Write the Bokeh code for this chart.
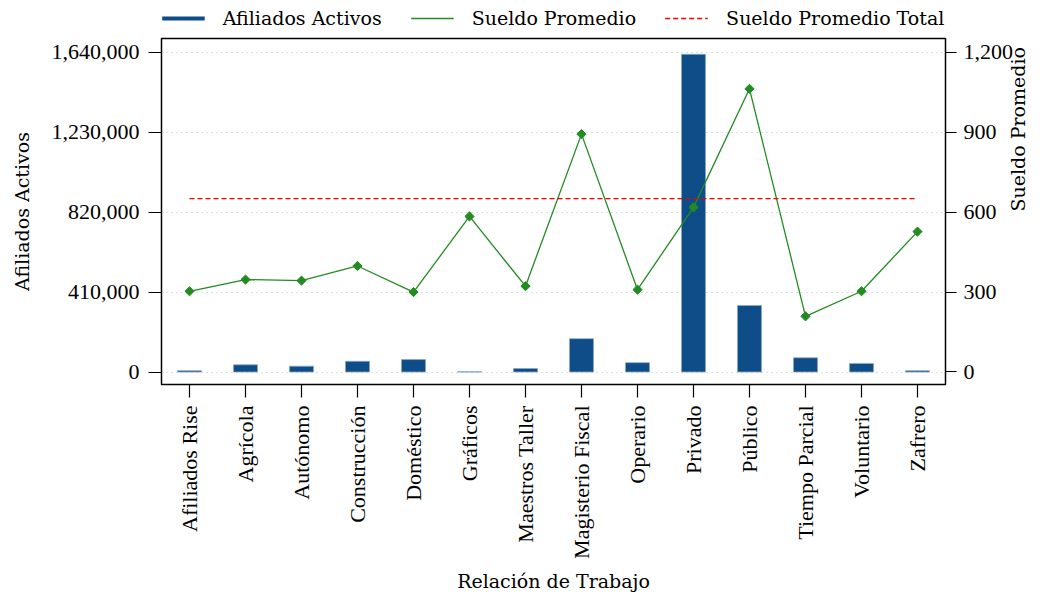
import math
from bokeh.plotting import figure
from bokeh.layouts import column
from bokeh.models import (Range1d, LinearAxis, FixedTicker, NumeralTickFormatter,
                          Legend, LegendItem, FactorRange)
from bokeh.embed import file_html
from bokeh.resources import INLINE

categories = ["Afiliados Rise", "Agrícola", "Autónomo", "Construcción", "Doméstico",
              "Gráficos", "Maestros Taller", "Magisterio Fiscal", "Operario", "Privado",
              "Público", "Tiempo Parcial", "Voluntario", "Zafrero"]
afiliados = [7000, 37000, 30000, 55000, 64000, 1000, 18000, 171000, 48000, 1630000,
             341000, 73000, 44000, 7000]
sueldo = [303, 347, 343, 398, 300, 584, 322, 893, 309, 618, 1063, 209, 303, 527]
sueldo_total = 651
left_ticks = [0, 410000, 820000, 1230000, 1640000]
right_ticks = [0, 300, 600, 900, 1200]
legend_labels = ["Afiliados Activos", "Sueldo Promedio", "Sueldo Promedio Total"]

FONT = "Liberation Serif"
FS = "22px"
LFONT = "DejaVu Serif"
LFS = "19px"
BLUE = "#0f4d89"
GREEN = "#228b22"
RED = "#ee0000"

# ---- legend strip (separate small figure above the chart) ----
lf = figure(width=1043, height=36, x_range=Range1d(0, 1), y_range=Range1d(0, 1),
            output_backend="svg", toolbar_location=None,
            min_border_left=0, min_border_right=0, min_border_top=0, min_border_bottom=0)
lf.axis.visible = False
lf.grid.visible = False
lf.outline_line_color = None
l1 = lf.line(x=[0, 0], y=[-5, -5], line_color=BLUE, line_width=4)
l2 = lf.line(x=[0, 0], y=[-5, -5], line_color=GREEN, line_width=1.3)
l3 = lf.line(x=[0, 0], y=[-5, -5], line_color=RED, line_width=1.3, line_dash="5 3")
legend = Legend(items=[LegendItem(label=legend_labels[0], renderers=[l1]),
                       LegendItem(label=legend_labels[1], renderers=[l2]),
                       LegendItem(label=legend_labels[2], renderers=[l3])],
                orientation="horizontal", location="center",
                border_line_color=None, background_fill_alpha=0,
                label_text_font=LFONT, label_text_font_size=LFS, label_text_color="black",
                label_text_font_style="normal",
                glyph_width=43, label_standoff=18, spacing=29, padding=2, margin=0)
lf.add_layout(legend, "center")

# ---- main chart ----
p = figure(x_range=FactorRange(*categories, range_padding=0),
           y_range=Range1d(-64000, 1711000),
           width=1043, height=558, output_backend="svg", toolbar_location=None,
           min_border_left=161, min_border_right=60, min_border_top=2, min_border_bottom=0)
p.extra_y_ranges = {"sueldo": Range1d(-47, 1252)}

p.vbar(x=categories, top=afiliados, width=0.43, fill_color=BLUE,
       line_color="#8fa8c6", line_width=0.8)
p.line(x=categories, y=sueldo, y_range_name="sueldo", line_color=GREEN, line_width=1.3)
p.scatter(x=categories, y=sueldo, y_range_name="sueldo", marker="square",
          angle=math.pi / 4, size=6.5, color=GREEN)
p.line(x=[categories[0], categories[-1]], y=[sueldo_total, sueldo_total],
       y_range_name="sueldo", line_color=RED, line_dash="5 3", line_width=1.3)

right = LinearAxis(y_range_name="sueldo")
p.add_layout(right, "right")

p.yaxis[0].ticker = FixedTicker(ticks=left_ticks)
p.yaxis[0].formatter = NumeralTickFormatter(format="0,0")
p.yaxis[0].axis_label = "Afiliados Activos"
right.ticker = FixedTicker(ticks=right_ticks)
right.formatter = NumeralTickFormatter(format="0,0")
right.axis_label = "Sueldo Promedio"
p.xaxis.axis_label = "Relación de Trabajo"
p.xaxis.major_label_orientation = math.pi / 2

for ax in p.axis:
    ax.axis_line_color = None
    ax.major_tick_out = 13
    ax.major_tick_in = 0
    ax.minor_tick_out = 0
    ax.minor_tick_in = 0
    ax.major_tick_line_color = "black"
    ax.major_tick_line_width = 1.2
    ax.major_label_text_font = FONT
    ax.major_label_text_font_size = FS
    ax.major_label_text_color = "black"
    ax.axis_label_text_font = LFONT
    ax.axis_label_text_font_size = LFS
    ax.axis_label_text_font_style = "normal"
    ax.axis_label_text_color = "black"
    ax.major_label_standoff = 9
    ax.axis_label_standoff = 16

right.major_tick_out = 11
right.major_label_standoff = 7
right.axis_label_standoff = 2
if hasattr(right, "axis_label_orientation"):
    right.axis_label_orientation = math.pi / 2
p.xaxis.major_label_standoff = 8
p.xaxis.axis_label_standoff = 8

p.xgrid.visible = False
p.ygrid.ticker = FixedTicker(ticks=left_ticks)
p.ygrid.grid_line_color = "#bdbdbd"
p.ygrid.grid_line_dash = "1 4"
p.ygrid.grid_line_width = 1

p.outline_line_color = "black"
p.outline_line_width = 1.5
p.outline_line_alpha = 1

layout = column(lf, p, spacing=0)
open("out.html", "w").write(file_html(layout, INLINE))
